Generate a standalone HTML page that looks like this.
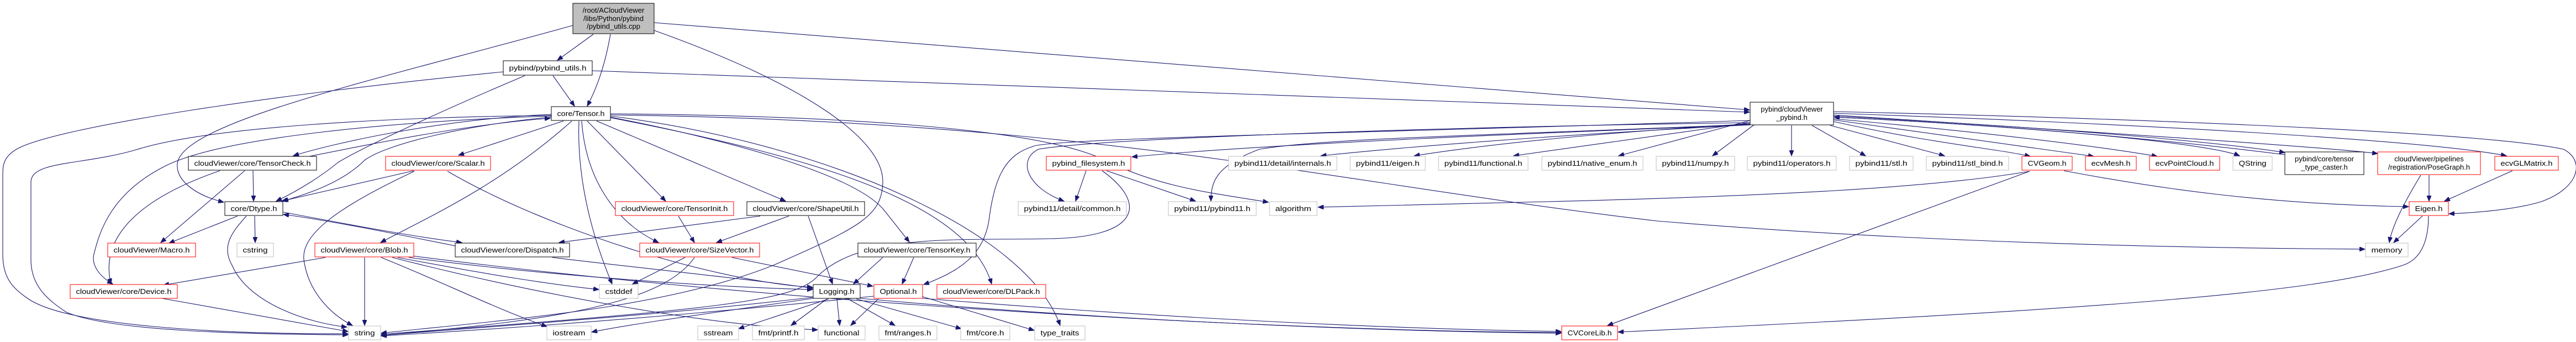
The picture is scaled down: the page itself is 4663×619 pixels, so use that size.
<!DOCTYPE html>
<html><head><meta charset="utf-8"><style>
html,body{margin:0;padding:0;background:#fff;}
svg{display:block;}
text{font-family:"Liberation Sans","DejaVu Sans",sans-serif;font-size:13px;fill:#000;}
path.e{fill:none;stroke:#191970;stroke-width:1.1;marker-end:url(#a);}
</style></head><body>
<svg width="4663" height="619" viewBox="0 0 4663 619" xmlns="http://www.w3.org/2000/svg">
<defs><marker id="a" markerUnits="userSpaceOnUse" markerWidth="11" markerHeight="8" refX="10" refY="4" orient="auto"><path d="M0,0 L10,4 L0,8 z" fill="#191970" stroke="#191970"/></marker></defs>
<g>
<path class="e" d="M1037,46 C700,140 330,220 321,296 C318,330 360,355 405,366"/>
<path class="e" d="M1074,62 L1009,109"/>
<path class="e" d="M1105,62 C1095,120 1080,160 1063,192"/>
<path class="e" d="M1184,41 L3167,199"/>
<path class="e" d="M1184,55 C1450,150 1600,250 1598,330 C1596,390 1560,410 1400,480 C1200,560 900,580 690,603"/>
<path class="e" d="M911,130 C500,170 100,230 30,270 C5,285 5,300 5,320 L5,460 C5,500 20,520 50,540 C120,590 400,605 630,604"/>
<path class="e" d="M950,137 C800,200 650,270 612,294 C580,320 540,345 500,364"/>
<path class="e" d="M1001,137 L1040,192"/>
<path class="e" d="M1072,128 L3167,203"/>
<path class="e" d="M998,207 C800,215 600,260 531,282"/>
<path class="e" d="M560,283 C700,255 850,225 996,214"/>
<path class="e" d="M998,212 C850,225 700,260 660,290 C620,330 560,350 512,364"/>
<path class="e" d="M998,210 C700,220 400,250 300,300 C200,350 180,420 170,460 C165,480 180,500 204,514"/>
<path class="e" d="M998,209 C700,212 380,230 250,270 C150,300 56,290 56,330 L56,470 C56,520 90,545 120,565 C200,600 450,605 630,606"/>
<path class="e" d="M1020,219 L830,281"/>
<path class="e" d="M1035,219 C900,340 760,400 689,439"/>
<path class="e" d="M1048,219 C1045,300 1060,400 1108,514"/>
<path class="e" d="M1053,219 C1060,320 1110,400 1192,439"/>
<path class="e" d="M1063,219 L1205,364"/>
<path class="e" d="M1080,219 L1422,364"/>
<path class="e" d="M1105,212 C1350,260 1550,320 1600,380 L1646,438"/>
<path class="e" d="M1105,213 C1450,280 1750,360 1795,514"/>
<path class="e" d="M1105,210 C1500,260 1860,420 1919,589"/>
<path class="e" d="M1105,206 C1600,210 1900,240 2000,290 C2100,340 2200,350 2296,366"/>
<path class="e" d="M1105,208 C2000,220 2400,330 3000,400 C3600,450 4200,450 4281,451"/>
<path class="e" d="M1000,466 C1200,490 1400,510 1471,522"/>
<path class="e" d="M740,466 C1000,500 1300,520 1471,524"/>
<path class="e" d="M589,466 L296,516"/>
<path class="e" d="M660,466 L660,589"/>
<path class="e" d="M690,466 C800,510 900,560 990,591"/>
<path class="e" d="M710,466 C1000,540 1300,590 1480,597"/>
<path class="e" d="M745,463 C1500,560 2400,600 2826,602"/>
<path class="e" d="M720,466 C900,500 1000,515 1084,524"/>
<path class="e" d="M293,540 L630,600"/>
<path class="e" d="M430,391 L306,440"/>
<path class="e" d="M461,391 L462,439"/>
<path class="e" d="M446,391 C420,420 400,445 420,480 C450,550 560,585 628,592"/>
<path class="e" d="M824,445 C700,420 600,400 513,388"/>
<path class="e" d="M513,384 C650,410 760,430 836,439"/>
<path class="e" d="M443,309 L291,439"/>
<path class="e" d="M458,309 L459,364"/>
<path class="e" d="M398,309 C250,360 180,430 201,514"/>
<path class="e" d="M749,309 L510,364"/>
<path class="e" d="M750,310 C600,380 540,430 551,476 C560,530 600,570 638,589"/>
<path class="e" d="M810,310 C1000,420 1300,510 1471,520"/>
<path class="e" d="M1376,391 L1012,439"/>
<path class="e" d="M1428,391 L1297,439"/>
<path class="e" d="M1463,391 L1507,514"/>
<path class="e" d="M1228,391 L1257,439"/>
<path class="e" d="M1240,466 L1145,514"/>
<path class="e" d="M1257,466 C1200,550 1000,580 690,607"/>
<path class="e" d="M1325,466 L1580,518"/>
<path class="e" d="M1598,466 L1545,514"/>
<path class="e" d="M1654,466 L1633,514"/>
<path class="e" d="M1500,541 L1337,595"/>
<path class="e" d="M1497,541 L1432,589"/>
<path class="e" d="M1515,541 L1520,589"/>
<path class="e" d="M1535,541 L1620,589"/>
<path class="e" d="M1550,541 L1740,595"/>
<path class="e" d="M1472,538 C1200,570 900,590 690,607"/>
<path class="e" d="M1472,540 C1300,565 1150,585 1071,601"/>
<path class="e" d="M1557,540 C2000,580 2500,600 2826,603"/>
<path class="e" d="M1590,541 L1540,589"/>
<path class="e" d="M1670,537 L1872,598"/>
<path class="e" d="M1582,536 C1300,565 1000,590 690,608"/>
<path class="e" d="M1670,540 C2100,575 2500,595 2826,600"/>
<path class="e" d="M3168,218 C2500,240 1900,250 1870,265 C1820,280 1800,320 1790,400 C1780,460 1740,490 1672,515"/>
<path class="e" d="M3168,222 C2600,230 2000,250 1880,270 C1840,290 1860,340 1926,364"/>
<path class="e" d="M3168,225 C2700,245 2400,250 2280,270 C2200,300 2192,330 2192,364"/>
<path class="e" d="M3168,226 C2800,240 2300,260 2049,284"/>
<path class="e" d="M3168,226 C2900,240 2600,260 2391,282"/>
<path class="e" d="M3168,224 C2900,240 2700,260 2560,282"/>
<path class="e" d="M3168,222 L2740,282"/>
<path class="e" d="M3168,218 L2930,282"/>
<path class="e" d="M3175,226 L3100,282"/>
<path class="e" d="M3243,227 L3243,282"/>
<path class="e" d="M3280,227 L3377,282"/>
<path class="e" d="M3313,227 L3520,282"/>
<path class="e" d="M3319,220 C3500,260 3620,270 3675,283"/>
<path class="e" d="M3319,217 C3550,250 3700,270 3790,283"/>
<path class="e" d="M3319,215 C3600,240 3800,265 3905,283"/>
<path class="e" d="M3319,212 C3700,230 4000,260 4054,282"/>
<path class="e" d="M3319,210 C3700,230 4000,255 4136,276"/>
<path class="e" d="M4136,280 C3900,250 3600,225 3320,212"/>
<path class="e" d="M3319,208 C3800,240 4200,265 4304,278"/>
<path class="e" d="M3319,205 C3900,225 4400,255 4537,282"/>
<path class="e" d="M3319,202 C3900,215 4500,240 4640,270 C4680,290 4670,340 4600,365 C4550,380 4480,385 4433,387"/>
<path class="e" d="M3736,309 C3900,340 4100,370 4360,374"/>
<path class="e" d="M3674,310 C3500,340 3200,355 2800,365 C2600,370 2450,374 2386,375"/>
<path class="e" d="M3674,310 L2910,589"/>
<path class="e" d="M4396,391 C4396,440 4380,470 4350,480 C4200,530 3800,560 2929,601"/>
<path class="e" d="M4385,391 L4333,439"/>
<path class="e" d="M4397,317 L4397,364"/>
<path class="e" d="M4382,317 C4350,370 4330,410 4325,439"/>
<path class="e" d="M4548,309 L4425,364"/>
<path class="e" d="M1966,309 L1947,364"/>
<path class="e" d="M2003,309 L2164,364"/>
<path class="e" d="M1995,309 C2080,370 2060,430 1900,432 C1750,436 1560,420 1480,500 C1440,545 1300,560 690,605"/>
</g>
<g id="nodes">
<rect x="1037" y="6" width="147" height="55" fill="#bfbfbf" stroke="#000"/>
<text x="1110.5" y="23" text-anchor="middle">/root/ACloudViewer</text>
<text x="1110.5" y="38" text-anchor="middle">/libs/Python/pybind</text>
<text x="1110.5" y="52" text-anchor="middle">/pybind_utils.cpp</text>

<rect x="3168" y="185" width="151" height="41" fill="#fff" stroke="#000"/>
<text x="3243.5" y="202" text-anchor="middle">pybind/cloudViewer</text>
<text x="3243.5" y="217" text-anchor="middle">_pybind.h</text>

<rect x="4136" y="275" width="143" height="41" fill="#fff" stroke="#000"/>
<text x="4207.5" y="292" text-anchor="middle">pybind/core/tensor</text>
<text x="4207.5" y="307" text-anchor="middle">_type_caster.h</text>

<rect x="4304" y="275" width="186" height="41" fill="#fff" stroke="#ff0000"/>
<text x="4397" y="292" text-anchor="middle">cloudViewer/pipelines</text>
<text x="4397" y="307" text-anchor="middle">/registration/PoseGraph.h</text>

<rect x="911" y="110" width="161" height="26" fill="#fff" stroke="#000"/><text x="991.5" y="127.5" text-anchor="middle" textLength="140" lengthAdjust="spacingAndGlyphs">pybind/pybind_utils.h</text>
<rect x="998" y="193" width="107" height="25" fill="#fff" stroke="#000"/><text x="1051.5" y="210" text-anchor="middle" textLength="86" lengthAdjust="spacingAndGlyphs">core/Tensor.h</text>
<rect x="341" y="283" width="232" height="25" fill="#fff" stroke="#000"/><text x="457" y="300" text-anchor="middle" textLength="211" lengthAdjust="spacingAndGlyphs">cloudViewer/core/TensorCheck.h</text>
<rect x="698" y="283" width="190" height="25" fill="#fff" stroke="#ff0000"/><text x="793" y="300" text-anchor="middle" textLength="169" lengthAdjust="spacingAndGlyphs">cloudViewer/core/Scalar.h</text>
<rect x="1894" y="283" width="153" height="25" fill="#fff" stroke="#ff0000"/><text x="1970.5" y="300" text-anchor="middle" textLength="132" lengthAdjust="spacingAndGlyphs">pybind_filesystem.h</text>
<rect x="2224" y="283" width="196" height="25" fill="#fff" stroke="#bfbfbf"/><text x="2322" y="300" text-anchor="middle" textLength="175" lengthAdjust="spacingAndGlyphs">pybind11/detail/internals.h</text>
<rect x="2444" y="283" width="136" height="25" fill="#fff" stroke="#bfbfbf"/><text x="2512" y="300" text-anchor="middle" textLength="115" lengthAdjust="spacingAndGlyphs">pybind11/eigen.h</text>
<rect x="2604" y="283" width="162" height="25" fill="#fff" stroke="#bfbfbf"/><text x="2685" y="300" text-anchor="middle" textLength="141" lengthAdjust="spacingAndGlyphs">pybind11/functional.h</text>
<rect x="2791" y="283" width="183" height="25" fill="#fff" stroke="#bfbfbf"/><text x="2882.5" y="300" text-anchor="middle" textLength="162" lengthAdjust="spacingAndGlyphs">pybind11/native_enum.h</text>
<rect x="2998" y="283" width="142" height="25" fill="#fff" stroke="#bfbfbf"/><text x="3069" y="300" text-anchor="middle" textLength="121" lengthAdjust="spacingAndGlyphs">pybind11/numpy.h</text>
<rect x="3163" y="283" width="161" height="25" fill="#fff" stroke="#bfbfbf"/><text x="3243.5" y="300" text-anchor="middle" textLength="140" lengthAdjust="spacingAndGlyphs">pybind11/operators.h</text>
<rect x="3348" y="283" width="115" height="25" fill="#fff" stroke="#bfbfbf"/><text x="3405.5" y="300" text-anchor="middle" textLength="94" lengthAdjust="spacingAndGlyphs">pybind11/stl.h</text>
<rect x="3487" y="283" width="149" height="25" fill="#fff" stroke="#bfbfbf"/><text x="3561.5" y="300" text-anchor="middle" textLength="128" lengthAdjust="spacingAndGlyphs">pybind11/stl_bind.h</text>
<rect x="3660" y="283" width="91" height="25" fill="#fff" stroke="#ff0000"/><text x="3705.5" y="300" text-anchor="middle" textLength="70" lengthAdjust="spacingAndGlyphs">CVGeom.h</text>
<rect x="3775" y="283" width="92" height="25" fill="#fff" stroke="#ff0000"/><text x="3821" y="300" text-anchor="middle" textLength="71" lengthAdjust="spacingAndGlyphs">ecvMesh.h</text>
<rect x="3891" y="283" width="127" height="25" fill="#fff" stroke="#ff0000"/><text x="3954.5" y="300" text-anchor="middle" textLength="106" lengthAdjust="spacingAndGlyphs">ecvPointCloud.h</text>
<rect x="4042" y="283" width="71" height="25" fill="#fff" stroke="#bfbfbf"/><text x="4077.5" y="300" text-anchor="middle" textLength="50" lengthAdjust="spacingAndGlyphs">QString</text>
<rect x="4516" y="283" width="115" height="25" fill="#fff" stroke="#ff0000"/><text x="4573.5" y="300" text-anchor="middle" textLength="94" lengthAdjust="spacingAndGlyphs">ecvGLMatrix.h</text>
<rect x="407" y="365" width="105" height="25" fill="#fff" stroke="#000"/><text x="459.5" y="382" text-anchor="middle" textLength="84" lengthAdjust="spacingAndGlyphs">core/Dtype.h</text>
<rect x="1114" y="365" width="214" height="25" fill="#fff" stroke="#ff0000"/><text x="1221" y="382" text-anchor="middle" textLength="193" lengthAdjust="spacingAndGlyphs">cloudViewer/core/TensorInit.h</text>
<rect x="1352" y="365" width="213" height="25" fill="#fff" stroke="#000"/><text x="1458.5" y="382" text-anchor="middle" textLength="192" lengthAdjust="spacingAndGlyphs">cloudViewer/core/ShapeUtil.h</text>
<rect x="1843" y="365" width="196" height="25" fill="#fff" stroke="#bfbfbf"/><text x="1941" y="382" text-anchor="middle" textLength="175" lengthAdjust="spacingAndGlyphs">pybind11/detail/common.h</text>
<rect x="2115" y="365" width="159" height="25" fill="#fff" stroke="#bfbfbf"/><text x="2194.5" y="382" text-anchor="middle" textLength="138" lengthAdjust="spacingAndGlyphs">pybind11/pybind11.h</text>
<rect x="2298" y="365" width="86" height="25" fill="#fff" stroke="#bfbfbf"/><text x="2341" y="382" text-anchor="middle" textLength="65" lengthAdjust="spacingAndGlyphs">algorithm</text>
<rect x="4361" y="365" width="71" height="25" fill="#fff" stroke="#ff0000"/><text x="4396.5" y="382" text-anchor="middle" textLength="50" lengthAdjust="spacingAndGlyphs">Eigen.h</text>
<rect x="195" y="440" width="159" height="25" fill="#fff" stroke="#ff0000"/><text x="274.5" y="457" text-anchor="middle" textLength="138" lengthAdjust="spacingAndGlyphs">cloudViewer/Macro.h</text>
<rect x="429" y="440" width="66" height="25" fill="#fff" stroke="#bfbfbf"/><text x="462" y="457" text-anchor="middle" textLength="45" lengthAdjust="spacingAndGlyphs">cstring</text>
<rect x="570" y="440" width="179" height="25" fill="#fff" stroke="#ff0000"/><text x="659.5" y="457" text-anchor="middle" textLength="158" lengthAdjust="spacingAndGlyphs">cloudViewer/core/Blob.h</text>
<rect x="824" y="440" width="207" height="25" fill="#fff" stroke="#000"/><text x="927.5" y="457" text-anchor="middle" textLength="186" lengthAdjust="spacingAndGlyphs">cloudViewer/core/Dispatch.h</text>
<rect x="1158" y="440" width="217" height="25" fill="#fff" stroke="#ff0000"/><text x="1266.5" y="457" text-anchor="middle" textLength="196" lengthAdjust="spacingAndGlyphs">cloudViewer/core/SizeVector.h</text>
<rect x="1553" y="440" width="214" height="25" fill="#fff" stroke="#000"/><text x="1660" y="457" text-anchor="middle" textLength="193" lengthAdjust="spacingAndGlyphs">cloudViewer/core/TensorKey.h</text>
<rect x="4282" y="440" width="77" height="25" fill="#fff" stroke="#bfbfbf"/><text x="4320.5" y="457" text-anchor="middle" textLength="56" lengthAdjust="spacingAndGlyphs">memory</text>
<rect x="127" y="515" width="194" height="25" fill="#fff" stroke="#ff0000"/><text x="224" y="532" text-anchor="middle" textLength="173" lengthAdjust="spacingAndGlyphs">cloudViewer/core/Device.h</text>
<rect x="1085" y="515" width="70" height="25" fill="#fff" stroke="#bfbfbf"/><text x="1120" y="532" text-anchor="middle" textLength="49" lengthAdjust="spacingAndGlyphs">cstddef</text>
<rect x="1472" y="515" width="85" height="25" fill="#fff" stroke="#000"/><text x="1514.5" y="532" text-anchor="middle" textLength="64" lengthAdjust="spacingAndGlyphs">Logging.h</text>
<rect x="1582" y="515" width="88" height="25" fill="#fff" stroke="#ff0000"/><text x="1626" y="532" text-anchor="middle" textLength="67" lengthAdjust="spacingAndGlyphs">Optional.h</text>
<rect x="1696" y="515" width="197" height="25" fill="#fff" stroke="#ff0000"/><text x="1794.5" y="532" text-anchor="middle" textLength="176" lengthAdjust="spacingAndGlyphs">cloudViewer/core/DLPack.h</text>
<rect x="631" y="590" width="58" height="25" fill="#fff" stroke="#bfbfbf"/><text x="660" y="607" text-anchor="middle" textLength="37" lengthAdjust="spacingAndGlyphs">string</text>
<rect x="990" y="590" width="80" height="25" fill="#fff" stroke="#bfbfbf"/><text x="1030" y="607" text-anchor="middle" textLength="59" lengthAdjust="spacingAndGlyphs">iostream</text>
<rect x="1263" y="590" width="74" height="25" fill="#fff" stroke="#bfbfbf"/><text x="1300" y="607" text-anchor="middle" textLength="53" lengthAdjust="spacingAndGlyphs">sstream</text>
<rect x="1362" y="590" width="94" height="25" fill="#fff" stroke="#bfbfbf"/><text x="1409" y="607" text-anchor="middle" textLength="73" lengthAdjust="spacingAndGlyphs">fmt/printf.h</text>
<rect x="1481" y="590" width="85" height="25" fill="#fff" stroke="#bfbfbf"/><text x="1523.5" y="607" text-anchor="middle" textLength="64" lengthAdjust="spacingAndGlyphs">functional</text>
<rect x="1591" y="590" width="105" height="25" fill="#fff" stroke="#bfbfbf"/><text x="1643.5" y="607" text-anchor="middle" textLength="84" lengthAdjust="spacingAndGlyphs">fmt/ranges.h</text>
<rect x="1739" y="590" width="89" height="25" fill="#fff" stroke="#bfbfbf"/><text x="1783.5" y="607" text-anchor="middle" textLength="68" lengthAdjust="spacingAndGlyphs">fmt/core.h</text>
<rect x="1873" y="590" width="91" height="25" fill="#fff" stroke="#bfbfbf"/><text x="1918.5" y="607" text-anchor="middle" textLength="70" lengthAdjust="spacingAndGlyphs">type_traits</text>
<rect x="2827" y="590" width="101" height="25" fill="#fff" stroke="#ff0000"/><text x="2877.5" y="607" text-anchor="middle" textLength="80" lengthAdjust="spacingAndGlyphs">CVCoreLib.h</text>
</g>
</svg>
</body></html>
